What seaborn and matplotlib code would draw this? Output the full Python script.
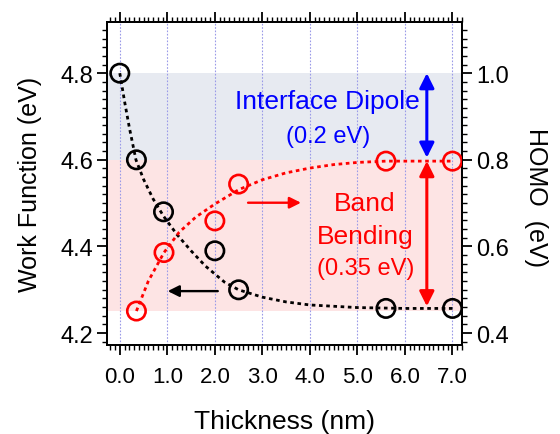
import numpy as np
import matplotlib
matplotlib.use("Agg")
import matplotlib.pyplot as plt
from matplotlib.ticker import MultipleLocator
import seaborn as sns

# measured points
thickness = [0.0, 0.35, 0.92, 2.0, 2.5, 5.6, 7.0]
work_function = [4.80, 4.60, 4.48, 4.39, 4.30, 4.257, 4.257]
homo_thickness = [0.35, 0.93, 2.0, 2.5, 5.6, 7.0]
homo = [0.451, 0.586, 0.659, 0.744, 0.797, 0.797]

# fitted curves
wf_fit_x = [0.0, 0.1, 0.2, 0.34, 0.5, 0.7, 0.92, 1.2, 1.5, 1.8, 2.2, 2.5, 3.0, 3.5, 4.0, 5.0, 6.0, 7.0]
wf_fit = [4.80, 4.735, 4.675, 4.60, 4.555, 4.51, 4.47, 4.428, 4.39, 4.355, 4.318, 4.30,
          4.283, 4.272, 4.265, 4.259, 4.257, 4.257]
homo_fit_x = [0.35, 0.6, 0.93, 1.25, 1.6, 2.0, 2.5, 3.0, 3.5, 4.0, 4.5, 5.0, 5.6, 7.0]
homo_fit = [0.451, 0.52, 0.586, 0.633, 0.668, 0.698, 0.731, 0.754, 0.770, 0.781, 0.789, 0.794, 0.797, 0.797]

sns.set_style("white")
plt.rcParams["font.family"] = ["Liberation Sans", "DejaVu Sans"]
plt.rcParams["text.color"] = "black"
plt.rcParams["axes.labelcolor"] = "black"
plt.rcParams["xtick.color"] = "black"
plt.rcParams["ytick.color"] = "black"

fig = plt.figure(figsize=(5.6, 4.35), dpi=100)
ax = fig.add_axes([0.191, 0.204, 0.634, 0.743])
ax2 = ax.twinx()

# shaded bands
ax.axhspan(4.6, 4.8, color="#e7eaf1", lw=0, zorder=0)
ax.axhspan(4.25, 4.6, color="#fde4e4", lw=0, zorder=0)

# vertical dotted grid
for xv in range(8):
    ax.axvline(xv, color="#9a9ae8", lw=0.8, ls=(0, (1.5, 1.5)), zorder=0.5)

dots = (0, (1.3, 1.3))
sns.lineplot(x=wf_fit_x, y=wf_fit, ax=ax, color="black", lw=2, ls=dots, sort=False, zorder=2)
sns.scatterplot(x=thickness, y=work_function, ax=ax, s=175, facecolor="none",
                edgecolor="black", linewidth=1.9, zorder=3)
sns.lineplot(x=homo_fit_x, y=homo_fit, ax=ax2, color="red", lw=2, ls=dots, sort=False, zorder=2)
sns.scatterplot(x=homo_thickness, y=homo, ax=ax2, s=175, facecolor="none",
                edgecolor="red", linewidth=1.9, zorder=3)

# axes
ax.set_xlim(-0.27, 7.2)
ax.set_ylim(4.172, 4.918)
ax2.set_ylim(0.372, 1.118)
ax.xaxis.set_minor_locator(MultipleLocator(0.1))
ax.yaxis.set_minor_locator(MultipleLocator(0.02))
ax2.yaxis.set_minor_locator(MultipleLocator(0.02))
ax.set_xticks(range(8), [f"{v:.1f}" for v in range(8)])
ax.set_yticks([4.2, 4.4, 4.6, 4.8], ["4.2", "4.4", "4.6", "4.8"])
ax2.set_yticks([0.4, 0.6, 0.8, 1.0], ["0.4", "0.6", "0.8", "1.0"])

ax.tick_params(axis="x", which="major", direction="out", length=7, width=1.3,
               top=True, bottom=True, labelsize=16, pad=8)
ax.tick_params(axis="x", which="minor", direction="out", length=3.5, width=1, top=True, bottom=True)
ax.tick_params(axis="y", which="major", direction="out", length=7, width=1.3,
               left=True, right=False, labelsize=17, pad=3)
ax.tick_params(axis="y", which="minor", direction="out", length=3.5, width=1, left=True, right=False)
ax2.tick_params(axis="y", which="major", direction="out", length=7, width=1.3, labelsize=17, pad=3)
ax2.tick_params(axis="y", which="minor", direction="out", length=3.5, width=1)

for a in (ax, ax2):
    for sp in a.spines.values():
        sp.set_visible(True)
        sp.set_color("black")
        sp.set_linewidth(1.3)

ax.set_xlabel("Thickness (nm)", fontsize=19, labelpad=16)
ax.set_ylabel("Work Function (eV)", fontsize=18, labelpad=13)
ax2.set_ylabel("HOMO  (eV)", fontsize=18, rotation=270, labelpad=28, y=0.46)

# annotations
ax.annotate("", xy=(0.95, 4.297), xytext=(2.12, 4.297),
            arrowprops=dict(arrowstyle="-|>", color="black", lw=1.7, mutation_scale=17))
ax.annotate("", xy=(3.87, 4.501), xytext=(2.64, 4.501),
            arrowprops=dict(arrowstyle="-|>", color="red", lw=1.7, mutation_scale=17))
ax.annotate("", xy=(6.46, 4.8), xytext=(6.46, 4.605),
            arrowprops=dict(arrowstyle="<|-|>", color="blue", lw=2.2, mutation_scale=22,
                            shrinkA=0, shrinkB=0))
ax.annotate("", xy=(6.46, 4.597), xytext=(6.46, 4.262),
            arrowprops=dict(arrowstyle="<|-|>", color="red", lw=2.2, mutation_scale=22,
                            shrinkA=0, shrinkB=0))

ax.text(4.37, 4.736, "Interface Dipole", color="blue", fontsize=19, ha="center", va="center")
ax.text(4.38, 4.655, "(0.2 eV)", color="blue", fontsize=17, ha="center", va="center")
ax.text(5.16, 4.501, "Band", color="red", fontsize=19, ha="center", va="center")
ax.text(5.16, 4.424, "Bending", color="red", fontsize=19, ha="center", va="center")
ax.text(5.17, 4.351, "(0.35 eV)", color="red", fontsize=17, ha="center", va="center")

fig.savefig("out.png", dpi=100)
